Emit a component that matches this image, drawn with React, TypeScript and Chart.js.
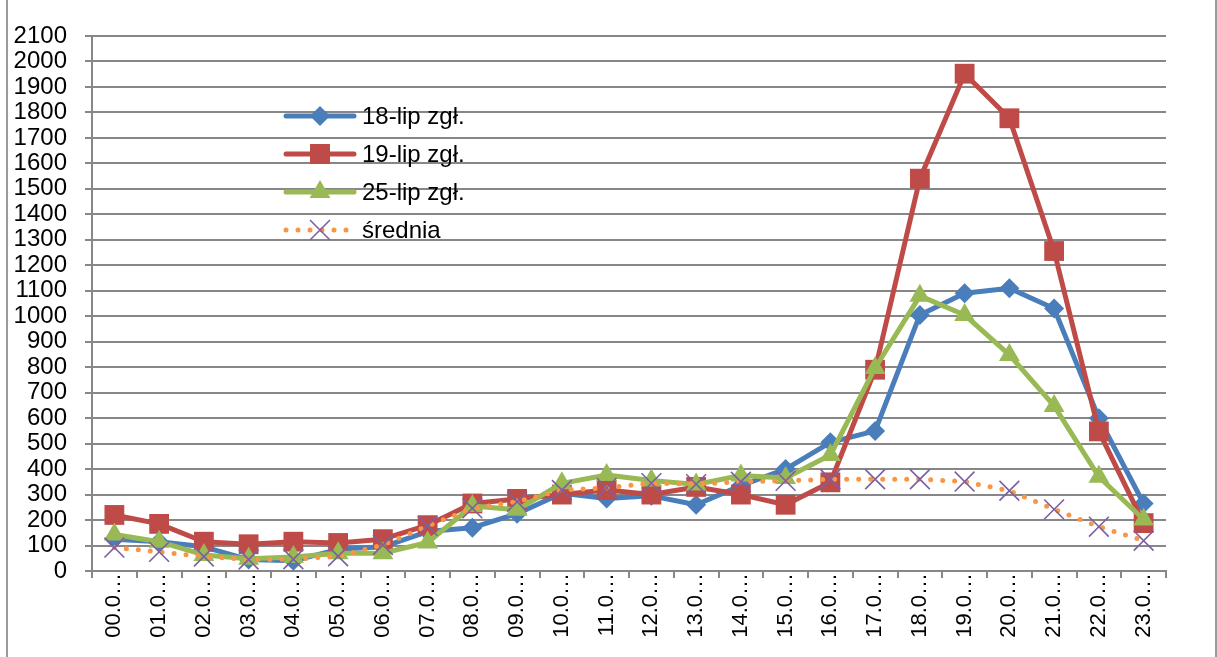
import React, { useEffect, useRef } from "react";
import { Chart, registerables } from "chart.js";

Chart.register(...registerables);

const categories = [
  "00.0…", "01.0…", "02.0…", "03.0…", "04.0…", "05.0…", "06.0…", "07.0…",
  "08.0…", "09.0…", "10.0…", "11.0…", "12.0…", "13.0…", "14.0…", "15.0…",
  "16.0…", "17.0…", "18.0…", "19.0…", "20.0…", "21.0…", "22.0…", "23.0…",
];
const lip18 = [125, 115, 95, 45, 40, 85, 95, 155, 170, 225, 305, 285, 295, 260, 335, 400, 505, 550, 1005, 1090, 1110, 1030, 600, 265];
const lip19 = [220, 185, 115, 105, 115, 110, 125, 180, 265, 283, 300, 318, 300, 330, 300, 260, 348, 790, 1540, 1952, 1777, 1256, 548, 188];
const lip25 = [143, 115, 63, 48, 55, 70, 70, 112, 255, 240, 344, 377, 355, 340, 375, 365, 455, 797, 1080, 1005, 848, 648, 370, 202];
const srednia = [92, 75, 57, 45, 46, 58, 102, 177, 246, 272, 318, 326, 345, 341, 350, 354, 360, 360, 360, 351, 315, 242, 174, 119];
const seriesNames = ["18-lip zgł.", "19-lip zgł.", "25-lip zgł.", "średnia"];
const yMin = 0;
const yMax = 2100;
const yStep = 100;

const BLUE = "#4A7EBB";
const RED = "#BE4B48";
const GREEN = "#98B954";
const ORANGE = "#F79646";
const PURPLE = "#7D60A0";
const GRID = "#878787";
const FONT = "'Liberation Sans', Arial, sans-serif";

function drawMarker(ctx: CanvasRenderingContext2D, style: string, x: number, y: number, color: string) {
  ctx.save();
  ctx.fillStyle = color;
  ctx.strokeStyle = color;
  ctx.beginPath();
  if (style === "rectRot") {
    const r = 10;
    ctx.moveTo(x, y - r);
    ctx.lineTo(x + r, y);
    ctx.lineTo(x, y + r);
    ctx.lineTo(x - r, y);
    ctx.closePath();
    ctx.fill();
  } else if (style === "rect") {
    const h = 10;
    ctx.rect(x - h, y - h, 2 * h, 2 * h);
    ctx.fill();
  } else if (style === "triangle") {
    const r = 12;
    ctx.moveTo(x, y - r);
    ctx.lineTo(x + r * Math.sin((2 * Math.PI) / 3), y + r * 0.5);
    ctx.lineTo(x - r * Math.sin((2 * Math.PI) / 3), y + r * 0.5);
    ctx.closePath();
    ctx.fill();
  } else {
    const h = 10;
    ctx.lineWidth = 1.6;
    ctx.moveTo(x - h, y - h);
    ctx.lineTo(x + h, y + h);
    ctx.moveTo(x + h, y - h);
    ctx.lineTo(x - h, y + h);
    ctx.stroke();
  }
  ctx.restore();
}

const legendPlugin = {
  id: "customLegend",
  afterDraw(chart: any) {
    const ctx: CanvasRenderingContext2D = chart.ctx;
    const rows = [116, 154, 192, 230];
    const styles = ["rectRot", "rect", "triangle", "crossRot"];
    const lineColors = [BLUE, RED, GREEN, ORANGE];
    const markerColors = [BLUE, RED, GREEN, PURPLE];
    const x0 = 286, x1 = 354, mx = 320, tx = 362;
    rows.forEach((y, i) => {
      ctx.save();
      ctx.strokeStyle = lineColors[i];
      ctx.lineWidth = 5;
      ctx.lineCap = "round";
      if (i === 3) ctx.setLineDash([0, 12]);
      ctx.beginPath();
      ctx.moveTo(x0, y);
      ctx.lineTo(x1, y);
      ctx.stroke();
      ctx.restore();
      drawMarker(ctx, styles[i], mx, y, markerColors[i]);
      ctx.save();
      ctx.fillStyle = "#000";
      ctx.font = `24px ${FONT}`;
      ctx.textBaseline = "middle";
      ctx.textAlign = "left";
      ctx.fillText(seriesNames[i], tx, y + 1);
      ctx.restore();
    });
  },
};

export default function App() {
  const ref = useRef<HTMLCanvasElement | null>(null);
  useEffect(() => {
    if (!ref.current) return;
    const chart = new Chart(ref.current, {
      type: "line",
      data: {
        labels: categories,
        datasets: [
          {
            label: seriesNames[0], data: lip18, borderColor: BLUE, backgroundColor: BLUE,
            borderWidth: 5, pointStyle: "rectRot", pointRadius: 10, pointBackgroundColor: BLUE,
            pointBorderColor: BLUE, pointBorderWidth: 0, tension: 0, order: 4, borderJoinStyle: "round",
          },
          {
            label: seriesNames[1], data: lip19, borderColor: RED, backgroundColor: RED,
            borderWidth: 5, pointStyle: "rect", pointRadius: 14, pointBackgroundColor: RED,
            pointBorderColor: RED, pointBorderWidth: 0, tension: 0, order: 3, borderJoinStyle: "round",
          },
          {
            label: seriesNames[2], data: lip25, borderColor: GREEN, backgroundColor: GREEN,
            borderWidth: 5, pointStyle: "triangle", pointRadius: 12, pointBackgroundColor: GREEN,
            pointBorderColor: GREEN, pointBorderWidth: 0, tension: 0, order: 2, borderJoinStyle: "round",
          },
          {
            label: seriesNames[3], data: srednia, borderColor: ORANGE, backgroundColor: PURPLE,
            borderWidth: 5, borderDash: [0, 12], borderCapStyle: "round", pointStyle: "crossRot",
            pointRadius: 14, pointBackgroundColor: PURPLE, pointBorderColor: PURPLE,
            pointBorderWidth: 1.6, tension: 0, order: 1,
          },
        ],
      },
      options: {
        animation: false,
        responsive: false,
        maintainAspectRatio: false,
        layout: { padding: { left: 0, top: 36, right: 51, bottom: 0 } },
        plugins: {
          legend: { display: false },
          tooltip: { enabled: false },
        },
        scales: {
          x: {
            type: "category",
            offset: true,
            afterFit: (scale: any) => { scale.height = 86; },
            grid: {
              display: true, offset: true, drawOnChartArea: false, drawTicks: true,
              tickLength: 7, color: GRID, lineWidth: 2,
            },
            border: { display: true, color: GRID, width: 2 },
            ticks: {
              autoSkip: false, maxRotation: 90, minRotation: 90, padding: -5,
              color: "#000", font: { family: FONT, size: 22 },
            },
          },
          y: {
            min: yMin, max: yMax,
            afterFit: (scale: any) => { scale.width = 92; },
            grid: { color: GRID, lineWidth: 2, drawTicks: true, tickLength: 7 },
            border: { display: true, color: GRID, width: 2 },
            ticks: {
              stepSize: yStep, padding: 18, color: "#000", autoSkip: false,
              callback: (v: any) => String(v),
              font: { family: FONT, size: 24 },
            },
          },
        },
      },
      plugins: [legendPlugin],
    });
    return () => chart.destroy();
  }, []);

  return (
    <div style={{ position: "fixed", left: 0, top: 0, width: 1217, height: 657, background: "#fff", overflow: "hidden" }}>
      <canvas ref={ref} width={1217} height={657} style={{ position: "absolute", left: 0, top: 0, width: 1217, height: 657 }} />
      <div style={{ position: "absolute", left: 6, top: -4, width: 1207, height: 700, border: "2px solid #9a9a9a", pointerEvents: "none" }} />
    </div>
  );
}
